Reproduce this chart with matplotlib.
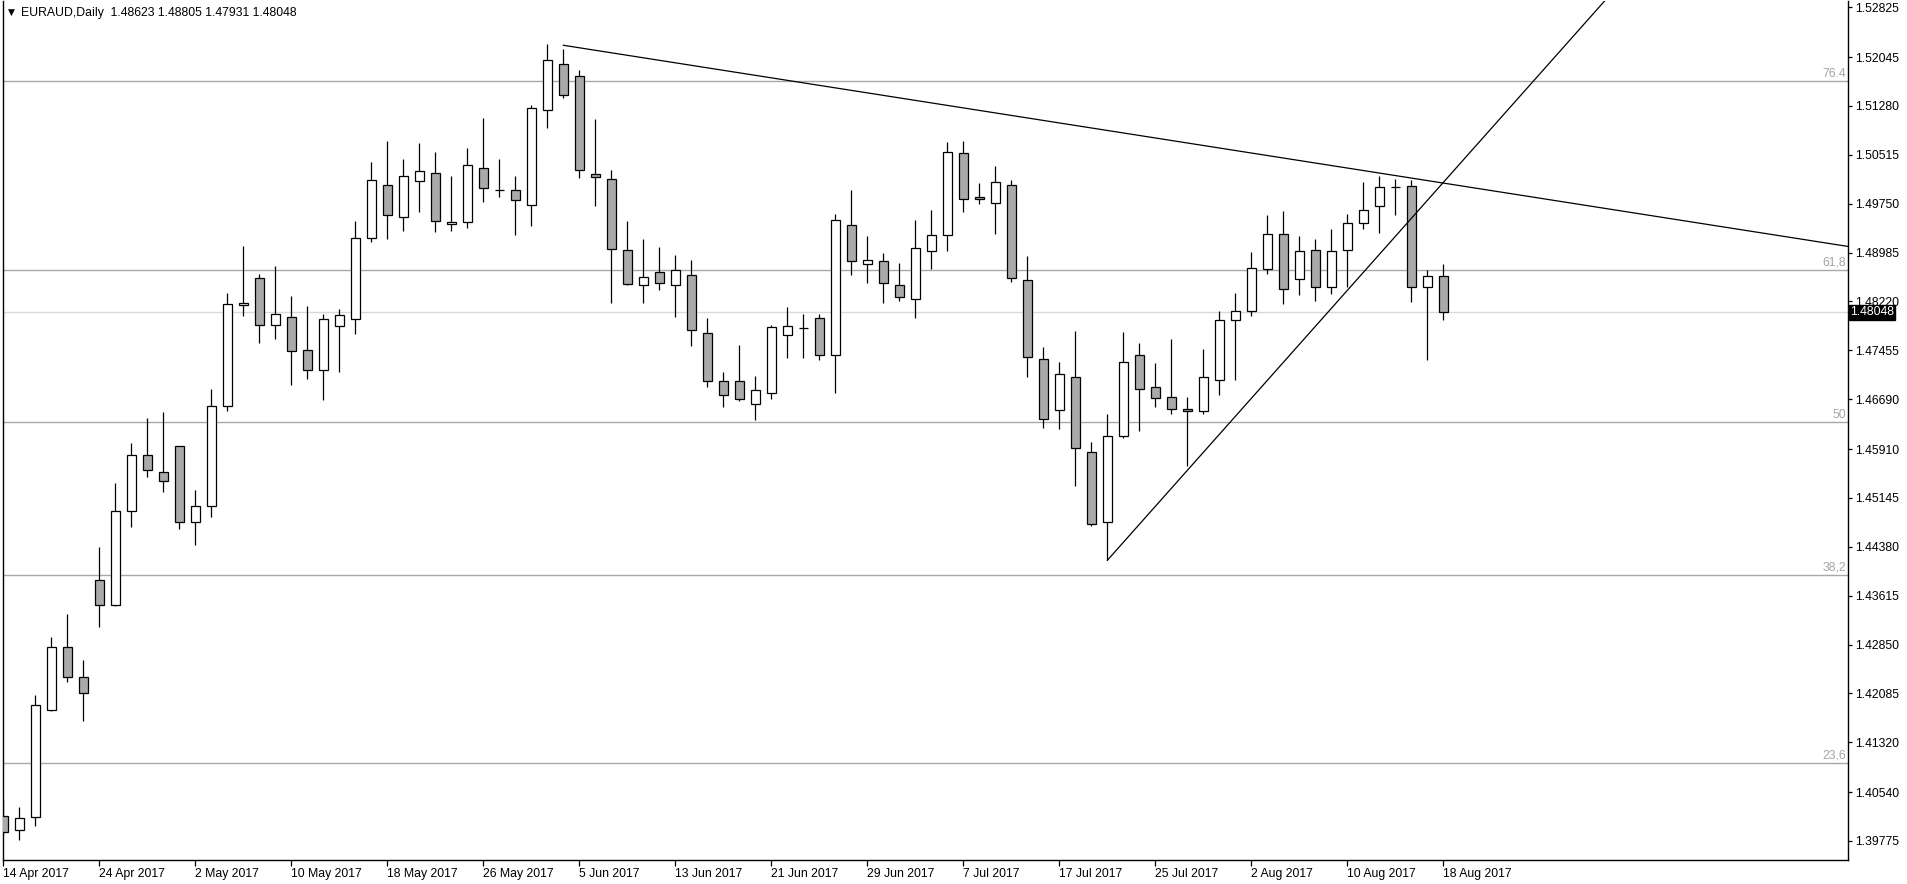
import matplotlib
matplotlib.use("Agg")
import matplotlib.pyplot as plt
import matplotlib.transforms as mtransforms

plt.rcParams['font.family'] = ['Liberation Sans', 'DejaVu Sans']

# EURAUD daily bars, 14 Apr 2017 .. 18 Aug 2017 (weekdays)
opens = [1.40170, 1.39941, 1.40154, 1.41829, 1.42806, 1.42337, 1.43855, 1.43464, 1.44935, 1.45812,
         1.45546, 1.45953, 1.44763, 1.45013, 1.46578, 1.48170, 1.48587, 1.47847, 1.47972, 1.47455,
         1.47142, 1.47831, 1.47941, 1.49209, 1.50038, 1.49537, 1.50101, 1.50226, 1.49428, 1.49459,
         1.50304, 1.49960, 1.49960, 1.49725, 1.51212, 1.51932, 1.51745, 1.50211, 1.50132, 1.49021,
         1.48473, 1.48676, 1.48473, 1.48629, 1.47721, 1.46970, 1.46970, 1.46610, 1.46782, 1.47690,
         1.47800, 1.47956, 1.47377, 1.49412, 1.48802, 1.48849, 1.48473, 1.48254, 1.49015, 1.49256,
         1.50544, 1.49850, 1.49757, 1.50043, 1.48551, 1.47314, 1.46516, 1.47033, 1.45859, 1.44763,
         1.46109, 1.47377, 1.46876, 1.46720, 1.46532, 1.46500, 1.46986, 1.47925, 1.48066, 1.48723,
         1.49271, 1.48567, 1.49021, 1.48442, 1.49021, 1.49443, 1.49710, 1.50007, 1.50023, 1.48442,
         1.48623]
highs = [1.40431, 1.40306, 1.42059, 1.42967, 1.43327, 1.42607, 1.44376, 1.45378, 1.46004, 1.46396,
         1.46490, 1.45953, 1.45269, 1.46850, 1.48347, 1.49088, 1.48650, 1.48775, 1.48305, 1.48149,
         1.48019, 1.48097, 1.49479, 1.50403, 1.50732, 1.50450, 1.50700, 1.50560, 1.50184, 1.50622,
         1.51092, 1.50450, 1.50184, 1.51291, 1.52250, 1.52172, 1.51839, 1.51076, 1.50273, 1.49475,
         1.49193, 1.49072, 1.48947, 1.48869, 1.47956, 1.47111, 1.47534, 1.47048, 1.47847, 1.48128,
         1.48019, 1.48019, 1.49584, 1.49960, 1.49240, 1.48974, 1.48817, 1.49495, 1.49647, 1.50716,
         1.50732, 1.50074, 1.50340, 1.50121, 1.48927, 1.47502, 1.47268, 1.47753, 1.46015, 1.46453,
         1.47737, 1.47565, 1.47252, 1.47628, 1.46720, 1.47471, 1.48066, 1.48348, 1.48989, 1.49569,
         1.49631, 1.49240, 1.49193, 1.49349, 1.49584, 1.50085, 1.50179, 1.50132, 1.50117, 1.48708,
         1.48805]
lows = [1.39868, 1.39794, 1.40013, 1.41813, 1.42268, 1.41657, 1.43129, 1.43450, 1.44694, 1.45477,
        1.45242, 1.44663, 1.44412, 1.44851, 1.46510, 1.47997, 1.47574, 1.47637, 1.46917, 1.47011,
        1.46682, 1.47120, 1.47715, 1.49155, 1.49202, 1.49328, 1.49625, 1.49312, 1.49328, 1.49375,
        1.49782, 1.49860, 1.49265, 1.49406, 1.50940, 1.51410, 1.50148, 1.49719, 1.48201, 1.48473,
        1.48201, 1.48404, 1.47981, 1.47527, 1.46886, 1.46573, 1.46667, 1.46369, 1.46688, 1.47330,
        1.47330, 1.47299, 1.46792, 1.48639, 1.48514, 1.48201, 1.48232, 1.47966, 1.48728, 1.49015,
        1.49616, 1.49741, 1.49271, 1.48529, 1.47042, 1.46244, 1.46228, 1.45326, 1.44700, 1.44168,
        1.46078, 1.46187, 1.46563, 1.46453, 1.45639, 1.46453, 1.46756, 1.46995, 1.47997, 1.48654,
        1.48185, 1.48326, 1.48232, 1.48341, 1.48451, 1.49359, 1.49296, 1.49569, 1.48216, 1.47308,
        1.47931]
closes = [1.39910, 1.40129, 1.41898, 1.42806, 1.42337, 1.42086, 1.43464, 1.44935, 1.45812, 1.45577,
          1.45405, 1.44763, 1.45013, 1.46578, 1.48175, 1.48195, 1.47847, 1.48019, 1.47440, 1.47142,
          1.47941, 1.48003, 1.49209, 1.50117, 1.49569, 1.50179, 1.50257, 1.49475, 1.49459, 1.50351,
          1.49991, 1.49962, 1.49803, 1.51244, 1.51995, 1.51447, 1.50273, 1.50164, 1.49036, 1.48489,
          1.48598, 1.48504, 1.48708, 1.47768, 1.46970, 1.46751, 1.46688, 1.46829, 1.47815, 1.47831,
          1.47802, 1.47377, 1.49490, 1.48849, 1.48864, 1.48504, 1.48285, 1.49052, 1.49256, 1.50560,
          1.49819, 1.49819, 1.50082, 1.48582, 1.47346, 1.46375, 1.47080, 1.45921, 1.44732, 1.46109,
          1.47268, 1.46845, 1.46704, 1.46532, 1.46500, 1.47033, 1.47925, 1.48066, 1.48739, 1.49271,
          1.48410, 1.49005, 1.48442, 1.49005, 1.49443, 1.49647, 1.50007, 1.50009, 1.48442, 1.48614,
          1.48048]

date_ticks = [0, 6, 12, 18, 24, 30, 36, 42, 48, 54, 60, 66, 72, 78, 84, 90]
date_labels = ["14 Apr 2017", "24 Apr 2017", "2 May 2017", "10 May 2017", "18 May 2017",
               "26 May 2017", "5 Jun 2017", "13 Jun 2017", "21 Jun 2017", "29 Jun 2017",
               "7 Jul 2017", "17 Jul 2017", "25 Jul 2017", "2 Aug 2017", "10 Aug 2017", "18 Aug 2017"]
price_ticks = [1.52825, 1.52045, 1.51280, 1.50515, 1.49750, 1.48985, 1.48220, 1.47455, 1.46690,
               1.45910, 1.45145, 1.44380, 1.43615, 1.42850, 1.42085, 1.41320, 1.40540, 1.39775]

fib_low = 1.3622
fib_high = 1.5644
fib_levels = [23.6, 38.2, 50, 61.8, 76.4]
fib_texts = ["23,6", "38,2", "50", "61,8", "76.4"]

last_price = 1.48048
title = "EURAUD,Daily  1.48623 1.48805 1.47931 1.48048"

# trend lines: two anchor points each (bar index, price)
desc_x = [35, 90]
desc_y = [1.52230, 1.50073]
asc_x = [69, 90]
asc_y = [1.44168, 1.50084]

W, H = 1908, 884
fs = 8.8
fig = plt.figure(figsize=(W / 100, H / 100), dpi=100)
ax = fig.add_axes([2.7 / W, 24 / H, (1848 - 2.7) / W, 859 / H])
ax.set_xlim(-0.04, 115.29)
ax.set_ylim(1.39477, 1.52923)

# fibo levels
for lvl, txt in zip(fib_levels, fib_texts):
    p = fib_low + lvl / 100 * (fib_high - fib_low)
    ax.axhline(p, color='#a8a8a8', lw=1.0, zorder=1)
    ax.annotate(txt, xy=(1.0, p), xycoords=ax.get_yaxis_transform(),
                xytext=(-2, 1.5), textcoords='offset pixels', ha='right', va='bottom',
                color='#a4a4a4', fontsize=fs)

ax.axhline(last_price, color='#d8d8d8', lw=1.0, zorder=1)

# candles
xs = list(range(len(opens)))
ax.vlines(xs, lows, highs, color='black', lw=0.9, zorder=2)
bottoms = [min(o, c) for o, c in zip(opens, closes)]
heights = [max(abs(c - o), 0.00003) for o, c in zip(opens, closes)]
colors = ['white' if c >= o else '#aaaaaa' for o, c in zip(opens, closes)]
ax.bar(xs, heights, width=0.58, bottom=bottoms, color=colors, edgecolor='black',
       linewidth=0.9, zorder=3)

# trend lines
x_end = ax.get_xlim()[1]
slope = (desc_y[1] - desc_y[0]) / (desc_x[1] - desc_x[0])
ax.plot([desc_x[0], x_end], [desc_y[0], desc_y[0] + slope * (x_end - desc_x[0])],
        color='black', lw=0.9, zorder=4)
slope = (asc_y[1] - asc_y[0]) / (asc_x[1] - asc_x[0])
ax.plot([asc_x[0], x_end], [asc_y[0], asc_y[0] + slope * (x_end - asc_x[0])],
        color='black', lw=0.9, zorder=4)

# axes
ax.yaxis.tick_right()
ax.set_yticks(price_ticks)
ax.set_yticklabels(['%.5f' % p for p in price_ticks])
ax.set_xticks(date_ticks)
ax.set_xticklabels(date_labels, ha='left')
ax.tick_params(axis='y', direction='out', length=3, width=0.9, pad=2, labelsize=fs)
ax.tick_params(axis='x', direction='out', length=4, width=0.9, pad=2, labelsize=fs)
for s in ax.spines.values():
    s.set_linewidth(1.0)
ax.spines['top'].set_visible(False)

ax.text(1.0 + 2 / 1845, last_price, '%.5f' % last_price,
        transform=mtransforms.blended_transform_factory(ax.transAxes, ax.transData),
        ha='left', va='center', color='white', fontsize=fs, zorder=10, clip_on=False,
        bbox=dict(boxstyle='square,pad=0.12', facecolor='black', edgecolor='black'))

fig.text(11 / W, 1 - 12.5 / H, '\u25bc', fontsize=6.5, ha='center', va='center',
         family='DejaVu Sans')
fig.text(21 / W, 1 - 12.7 / H, title, fontsize=fs, ha='left', va='center')

fig.savefig('out.png', dpi=100)
